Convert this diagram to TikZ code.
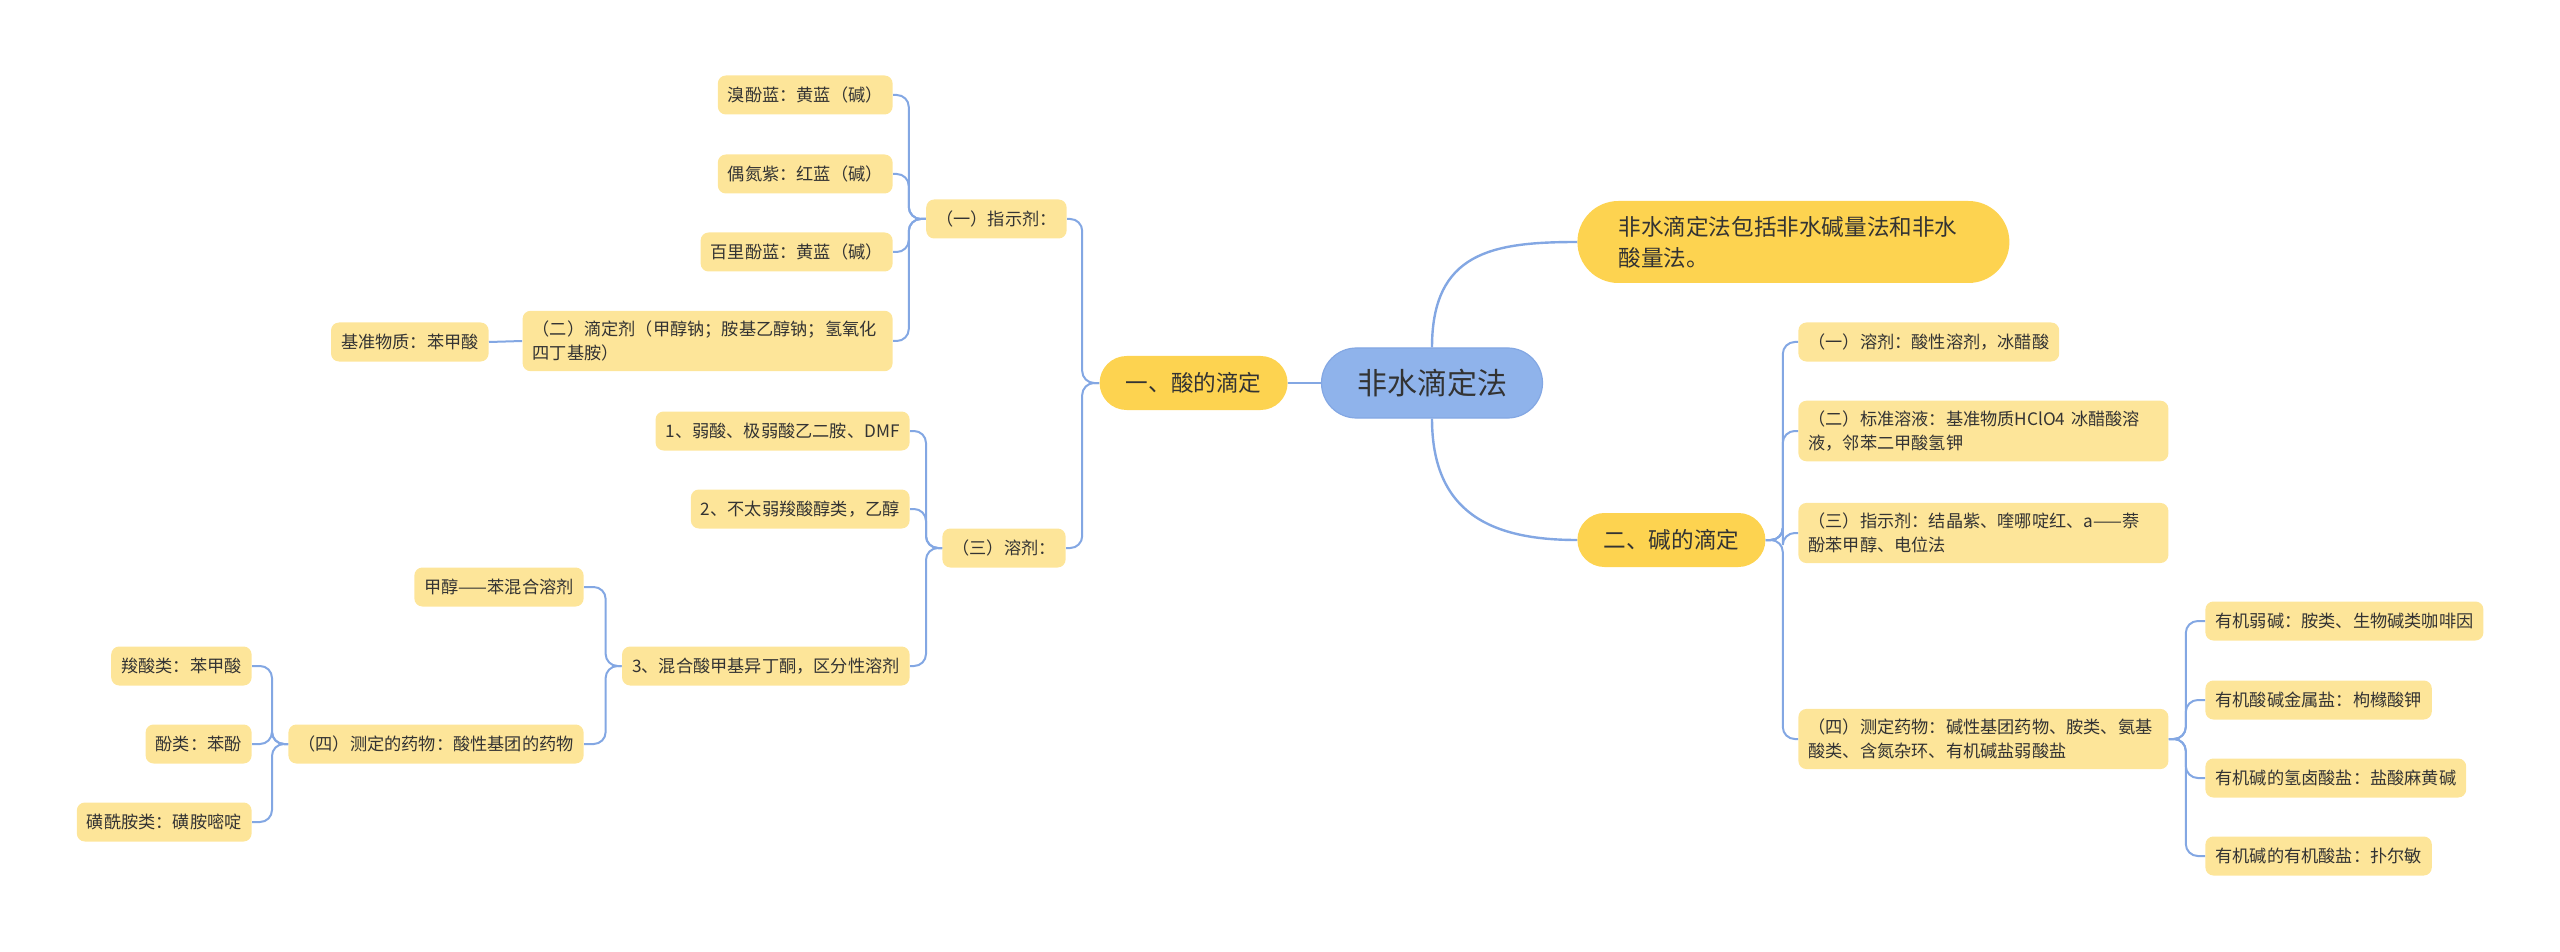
\documentclass[tikz,border=0pt]{standalone}
\usepackage{fontspec}
\setmainfont{Noto Sans CJK SC}
\definecolor{rootblue}{HTML}{8FB3EB}
\definecolor{topicgold}{HTML}{FDD350}
\definecolor{itemyellow}{HTML}{FDE599}
\definecolor{linkblue}{HTML}{83A7E3}
\definecolor{inkgray}{HTML}{333333}

\begin{document}
\begin{tikzpicture}[x=0.5pt,y=-0.5pt,
  root/.style={fill=rootblue,draw=linkblue,line width=0.6pt,rounded corners=17.5pt,minimum width=110.5pt,minimum height=35pt,text=inkgray,font=\fontsize{15}{18}\selectfont},
  topic/.style={fill=topicgold,rounded corners=13.5pt,minimum width=94pt,minimum height=27pt,text=inkgray,font=\fontsize{11.3}{15.5}\selectfont},
  intro/.style={topic,rounded corners=20.5pt,text width=175pt,align=left,inner xsep=20.5pt,minimum height=41pt},
  item/.style={fill=itemyellow,rounded corners=4pt,inner xsep=5pt,inner ysep=5pt,minimum height=19.5pt,text=inkgray,font=\fontsize{8.6}{12}\selectfont},
  longitem/.style={item,text width=175pt,align=left},
  trunk/.style={draw=linkblue,line width=1.2pt},
  link/.style={draw=linkblue,line width=1pt,rounded corners=6pt}]
\useasboundingbox (0,0) rectangle (2560,952);

% centre and main branches
\node[root] (root) at (1432,383) {非水滴定法};
\node[topic,anchor=east] (acid) at (1288,383) {一、酸的滴定};
\node[topic,anchor=west] (base) at (1577,540) {二、碱的滴定};
\node[intro,anchor=west] (intro) at (1577,242) {非水滴定法包括非水碱量法和非水\\酸量法。};

% acid side
\node[item,anchor=east] (ind) at (1067,219) {（一）指示剂：};
\node[item,anchor=east] (ind1) at (893,95) {溴酚蓝：黄蓝（碱）};
\node[item,anchor=east] (ind2) at (893,174) {偶氮紫：红蓝（碱）};
\node[item,anchor=east] (ind3) at (893,252) {百里酚蓝：黄蓝（碱）};
\node[longitem,anchor=east] (titr) at (893,341) {（二）滴定剂（甲醇钠；胺基乙醇钠；氢氧化\\四丁基胺）};
\node[item,anchor=east] (std) at (489,342) {基准物质：苯甲酸};
\node[item,anchor=east] (sol) at (1066,548) {（三）溶剂：};
\node[item,anchor=east] (sol1) at (910,431) {1、弱酸、极弱酸乙二胺、DMF};
\node[item,anchor=east] (sol2) at (910,509) {2、不太弱羧酸醇类，乙醇};
\node[item,anchor=east] (sol3) at (910,666) {3、混合酸甲基异丁酮，区分性溶剂};
\node[item,anchor=east] (mix1) at (584,587) {甲醇——苯混合溶剂};
\node[item,anchor=east] (mix2) at (584,744) {（四）测定的药物：酸性基团的药物};
\node[item,anchor=east] (drug1) at (252,666) {羧酸类：苯甲酸};
\node[item,anchor=east] (drug2) at (252,744) {酚类：苯酚};
\node[item,anchor=east] (drug3) at (252,822) {磺酰胺类：磺胺嘧啶};

% base side
\node[item,anchor=west] (bas1) at (1798,342) {（一）溶剂：酸性溶剂，冰醋酸};
\node[longitem,anchor=west] (bas2) at (1798,431) {（二）标准溶液：基准物质HClO4 冰醋酸溶\\液，邻苯二甲酸氢钾};
\node[longitem,anchor=west] (bas3) at (1798,533) {（三）指示剂：结晶紫、喹哪啶红、a——萘\\酚苯甲醇、电位法};
\node[longitem,anchor=west] (bas4) at (1798,739) {（四）测定药物：碱性基团药物、胺类、氨基\\酸类、含氮杂环、有机碱盐弱酸盐};
\node[item,anchor=west] (org1) at (2205,621) {有机弱碱：胺类、生物碱类咖啡因};
\node[item,anchor=west] (org2) at (2205,700) {有机酸碱金属盐：枸橼酸钾};
\node[item,anchor=west] (org3) at (2205,778) {有机碱的氢卤酸盐：盐酸麻黄碱};
\node[item,anchor=west] (org4) at (2205,856) {有机碱的有机酸盐：扑尔敏};

% connectors
\draw[trunk] (root.west) -- (acid.east);
\draw[trunk] (root.north) .. controls +(0,-95) and +(-85,0) .. (intro.west);
\draw[trunk] (root.south) .. controls +(0,95) and +(-85,0) .. (base.west);

\draw[link] (acid.west) -- ++(-17,0) |- (ind.east);
\draw[link] (acid.west) -- ++(-17,0) |- (sol.east);
\draw[link] (ind.west) -- ++(-17,0) |- (ind1.east);
\draw[link] (ind.west) -- ++(-17,0) |- (ind2.east);
\draw[link] (ind.west) -- ++(-17,0) |- (ind3.east);
\draw[link] (ind.west) -- ++(-17,0) |- (titr.east);
\draw[link] (titr.west) -- (std.east);
\draw[link] (sol.west) -- ++(-16,0) |- (sol1.east);
\draw[link] (sol.west) -- ++(-16,0) |- (sol2.east);
\draw[link] (sol.west) -- ++(-16,0) |- (sol3.east);
\draw[link] (sol3.west) -- ++(-16,0) |- (mix1.east);
\draw[link] (sol3.west) -- ++(-16,0) |- (mix2.east);
\draw[link] (mix2.west) -- ++(-16,0) |- (drug1.east);
\draw[link] (mix2.west) -- ++(-16,0) |- (drug2.east);
\draw[link] (mix2.west) -- ++(-16,0) |- (drug3.east);

\draw[link] (base.east) -- ++(17,0) |- (bas1.west);
\draw[link] (base.east) -- ++(17,0) |- (bas2.west);
\draw[link] (base.east) -- ++(17,0) |- (bas3.west);
\draw[link] (base.east) -- ++(17,0) |- (bas4.west);
\draw[link] (bas4.east) -- ++(17,0) |- (org1.west);
\draw[link] (bas4.east) -- ++(17,0) |- (org2.west);
\draw[link] (bas4.east) -- ++(17,0) |- (org3.west);
\draw[link] (bas4.east) -- ++(17,0) |- (org4.west);
\end{tikzpicture}
\end{document}
